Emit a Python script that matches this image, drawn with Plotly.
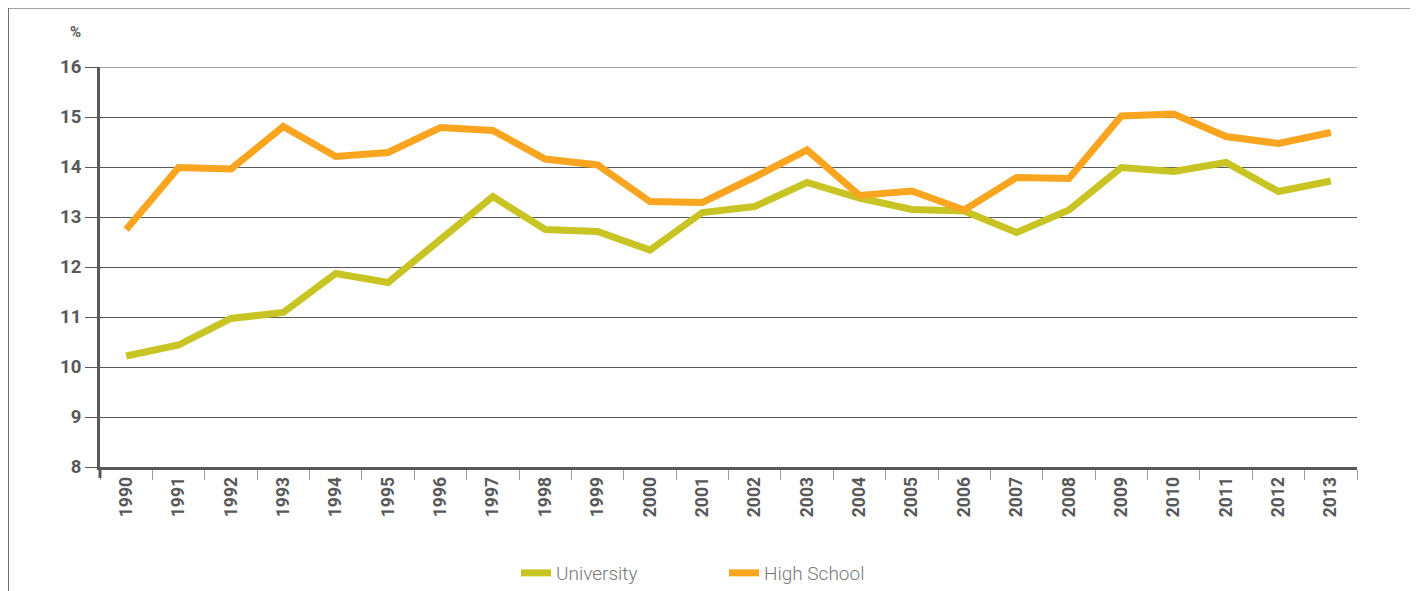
import plotly.graph_objects as go

years = [str(y) for y in range(1990, 2014)]
university = [10.22, 10.44, 10.97, 11.09, 11.87, 11.69, 12.55, 13.41, 12.75, 12.71,
              12.34, 13.09, 13.21, 13.69, 13.38, 13.15, 13.12, 12.69, 13.14, 13.99,
              13.91, 14.09, 13.51, 13.72]
high_school = [12.75, 13.99, 13.96, 14.81, 14.21, 14.29, 14.79, 14.73, 14.16, 14.04,
               13.31, 13.29, 13.80, 14.34, 13.43, 13.52, 13.14, 13.79, 13.77, 15.02,
               15.06, 14.61, 14.47, 14.69]
y_ticks = [8, 9, 10, 11, 12, 13, 14, 15, 16]

AX = "#58585a"
FONT = "Roboto"

fig = go.Figure()
fig.add_trace(go.Scatter(x=years, y=university, mode="lines", name="University",
                         line=dict(color="#c8c423", width=7)))
fig.add_trace(go.Scatter(x=years, y=high_school, mode="lines", name="High School",
                         line=dict(color="#f9a51f", width=7)))

OFF = 8  # page body margin
W, H = 1418 - OFF, 591 - OFF
# plot area in page coords: x 100..1357, y 67..467
L, T = 100 - OFF, 67 - OFF
R = W - (1357 - OFF)
B = H - (467 - OFF)
pw, ph = W - L - R, H - T - B

def px(x):
    return (x - OFF - L) / pw

def py(y):
    return (H - B - (y - OFF)) / ph

fig.update_layout(
    width=W, height=H,
    margin=dict(l=L, r=R, t=T, b=B),
    paper_bgcolor="white", plot_bgcolor="white",
    font=dict(family=FONT, color=AX),
    showlegend=True,
    legend=dict(orientation="h", xref="container", yref="container",
                x=(724 - OFF) / W, y=(H - (573 - OFF)) / H,
                xanchor="center", yanchor="middle",
                font=dict(family=FONT, size=19, color="#77777a", weight=300),
                entrywidth=163, itemwidth=30),
    xaxis=dict(type="category", tickson="boundaries", ticks="outside", ticklen=10,
               tickcolor="#9a9a9c", tickwidth=1, showline=True, linecolor=AX, linewidth=3,
               showgrid=False, tickangle=-90,
               tickfont=dict(family=FONT, size=17.5, color=AX, weight=700),
               range=[-0.5, len(years) - 0.5]),
    yaxis=dict(range=[8, 16], tickvals=y_ticks, ticks="outside", ticklen=12,
               tickcolor=AX, tickwidth=1, showline=True, linecolor=AX, linewidth=3,
               showgrid=True, gridcolor=AX, gridwidth=1, zeroline=False,
               tickfont=dict(family=FONT, size=18.5, color=AX, weight=700)),
    annotations=[dict(text="%", x=px(75), y=py(32), xref="paper", yref="paper",
                      showarrow=False, xanchor="center", yanchor="middle",
                      font=dict(family=FONT, size=15, color=AX, weight=700))],
    shapes=[
        dict(type="line", xref="paper", yref="y", x0=0, x1=1, y0=16, y1=16,
             line=dict(color="#a3a3a5", width=2), layer="above"),
        dict(type="line", xref="paper", yref="paper", x0=0, x1=0, y0=0, y1=py(478),
             line=dict(color=AX, width=3)),
        dict(type="line", xref="paper", yref="paper", x0=px(8), x1=px(1414), y0=py(8), y1=py(8),
             line=dict(color="#a3a3a5", width=2)),
        dict(type="line", xref="paper", yref="paper", x0=px(8.5), x1=px(8.5), y0=py(8), y1=py(600),
             line=dict(color="#6d6d6f", width=1)),
        dict(type="line", xref="paper", yref="paper", x0=px(1414), x1=px(1414), y0=py(8), y1=py(600),
             line=dict(color="#6d6d6f", width=1)),
    ],
)

fig.write_html("out.html")
